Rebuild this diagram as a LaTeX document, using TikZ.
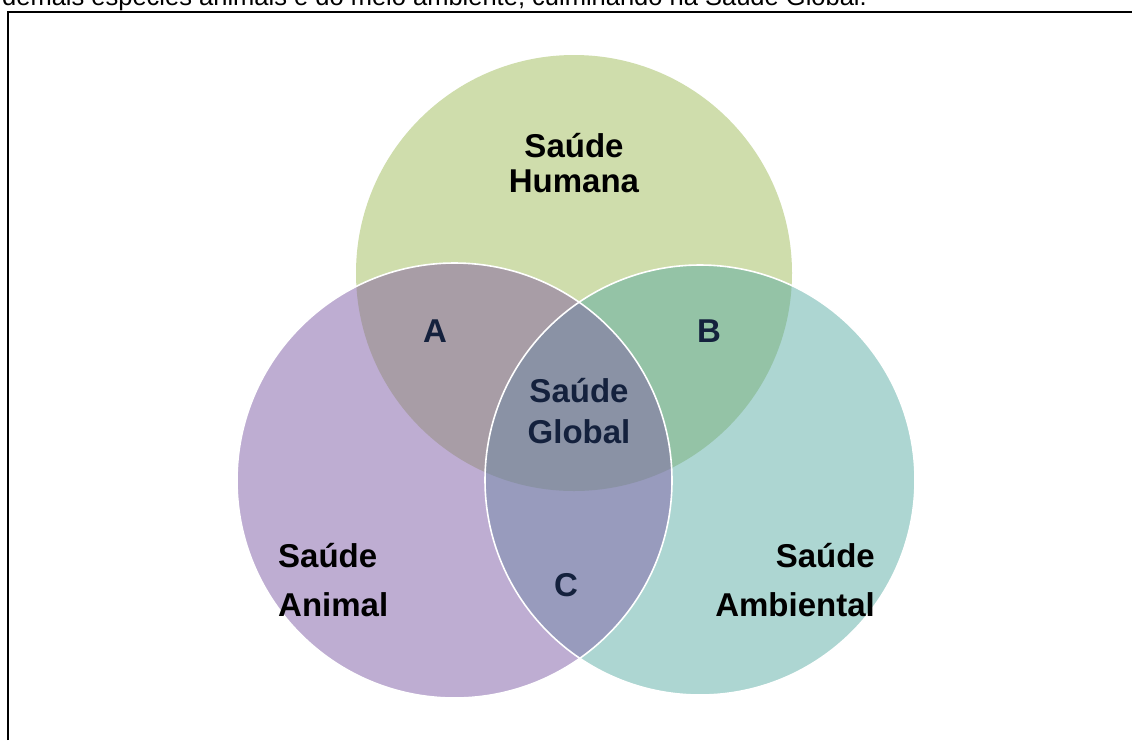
\documentclass[tikz,border=0pt]{standalone}
\usepackage{fontspec}
\setmainfont{Liberation Sans}
\definecolor{cgreen}{HTML}{CFDDAC}
\definecolor{clilac}{HTML}{BEADD2}
\definecolor{cteal}{HTML}{ADD6D2}
\definecolor{cA}{HTML}{A89DA6}
\definecolor{cB}{HTML}{94C3A6}
\definecolor{cC}{HTML}{989BBD}
\definecolor{cG}{HTML}{8A92A5}
\definecolor{navytxt}{HTML}{14213D}
\begin{document}
\begin{tikzpicture}[x=1pt,y=-1pt,
  lbl/.style={font=\fontsize{33}{35}\selectfont\bfseries, inner sep=0pt},
  navylbl/.style={lbl, text=navytxt},
  rim/.style={draw=white, line width=1.6pt}]
\useasboundingbox (0,0) rectangle (1132,740);
\fill[white] (0,0) rectangle (1132,740);
% caption (cut off at top, as in the reference)
\node[font=\fontsize{25.5}{28}\selectfont, anchor=base west, inner sep=0pt] (cap) at (2,5)
  {demais espécies animais e do meio ambiente, culminando na Saúde Global.};
% frame
\coordinate (f1) at (8,740);
\coordinate (f2) at (8,11.5);
\coordinate (f3) at (1132,11.5);
\draw[line width=2pt] (f1) -- (f2) -- (f3);
% circles
\coordinate (H) at (574,273);
\coordinate (N) at (454.5,480.5);
\coordinate (E) at (700,480);
\fill[cgreen] (H) circle[radius=218];
\fill[clilac] (N) circle[radius=217.5];
\fill[cteal] (E) circle[radius=215];
\begin{scope}
  \clip (H) circle[radius=218];
  \fill[cA] (N) circle[radius=217.5];
  \fill[cB] (E) circle[radius=215];
\end{scope}
\begin{scope}
  \clip (N) circle[radius=217.5];
  \fill[cC] (E) circle[radius=215];
  \clip (H) circle[radius=218];
  \fill[cG] (E) circle[radius=215];
\end{scope}
\draw[rim] (N) circle[radius=217.5];
\draw[rim] (E) circle[radius=215];
% labels
\node[lbl, anchor=base] (hum1) at (574,157) {Saúde};
\node[lbl, anchor=base] (hum2) at (574,192) {Humana};
\node[navylbl, anchor=base] (la) at (435,342) {A};
\node[navylbl, anchor=base] (lb) at (709,342) {B};
\node[navylbl, anchor=base] (glo1) at (579,402) {Saúde};
\node[navylbl, anchor=base] (glo2) at (579,443) {Global};
\node[navylbl, anchor=base] (lc) at (566,596) {C};
\node[lbl, anchor=base west] (ani1) at (278,567) {Saúde};
\node[lbl, anchor=base west] (ani2) at (278,616) {Animal};
\node[lbl, anchor=base east] (amb1) at (875,567) {Saúde};
\node[lbl, anchor=base east] (amb2) at (875,616) {Ambiental};
\end{tikzpicture}
\end{document}
